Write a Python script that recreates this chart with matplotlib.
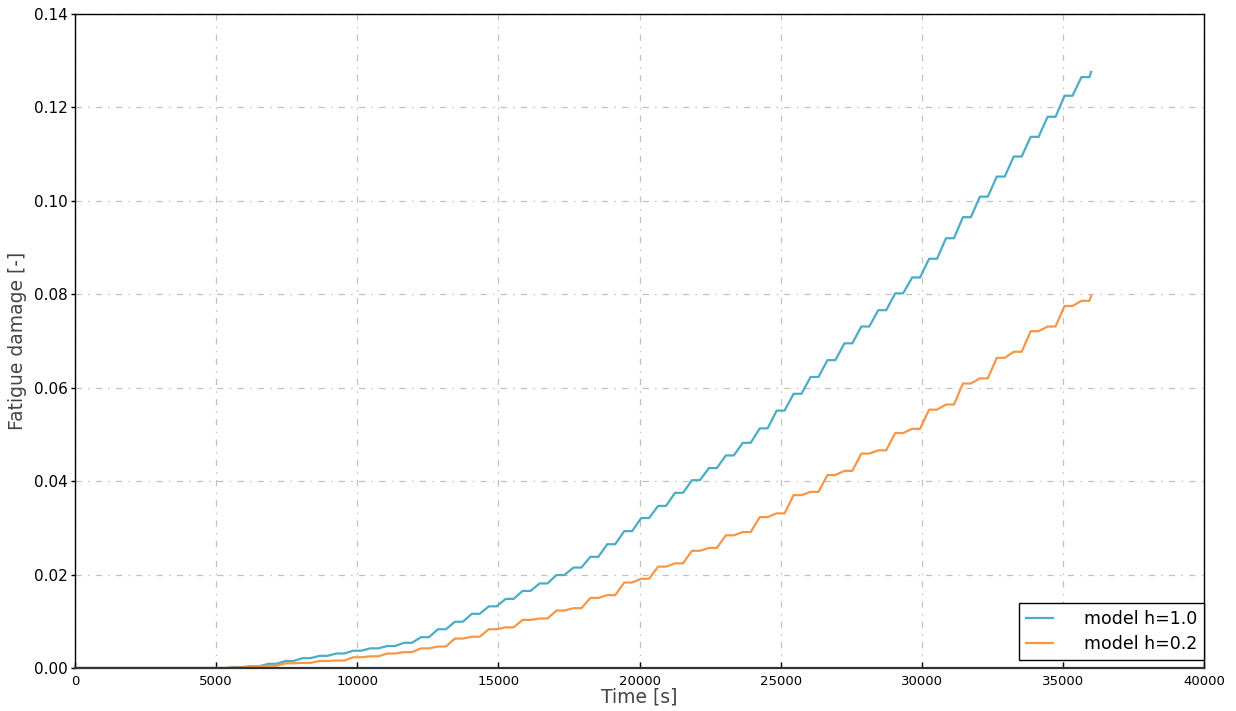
import numpy as np
import matplotlib
matplotlib.use("Agg")
import matplotlib.pyplot as plt

# ---- data: damage level at each 600 s load step (plateau centred at 600*k + 400 s)
step_period = 600.0
t_end = 36000.0

blue_levels = [
    0.0, 0.0, 0.0, 0.0, 0.0, 0.0, 0.0, 0.0, 0.0, 0.0002,          # k 0-9
    0.0004, 0.0009, 0.0015, 0.0021, 0.0026, 0.0031, 0.0037, 0.0042, 0.0047, 0.0054,  # 10-19
    0.0066, 0.0083, 0.0099, 0.0116, 0.0132, 0.0148, 0.0165, 0.0181, 0.0199, 0.0215,  # 20-29
    0.0238, 0.0265, 0.0293, 0.0321, 0.0347, 0.0375, 0.0402, 0.0428, 0.0455, 0.0482,  # 30-39
    0.0513, 0.0551, 0.0587, 0.0623, 0.0659, 0.0695, 0.0731, 0.0766, 0.0802, 0.0836,  # 40-49
    0.0876, 0.0920, 0.0965, 0.1009, 0.1052, 0.1095, 0.1137, 0.1180, 0.1225, 0.1265,  # 50-59
]
blue_end = 0.1276

orange_levels = [
    0.0, 0.0, 0.0, 0.0, 0.0, 0.0, 0.0, 0.0, 0.0, 0.0001,          # k 0-9
    0.0004, 0.0005, 0.0010, 0.0011, 0.0015, 0.0016, 0.0023, 0.0025, 0.0031, 0.0034,  # 10-19
    0.0042, 0.0046, 0.0063, 0.0067, 0.0083, 0.0087, 0.0103, 0.0106, 0.0123, 0.0128,  # 20-29
    0.0150, 0.0156, 0.0183, 0.0191, 0.0217, 0.0224, 0.0251, 0.0257, 0.0284, 0.0291,  # 30-39
    0.0323, 0.0331, 0.0370, 0.0377, 0.0413, 0.0422, 0.0459, 0.0466, 0.0503, 0.0512,  # 40-49
    0.0553, 0.0564, 0.0609, 0.0620, 0.0664, 0.0677, 0.0721, 0.0731, 0.0775, 0.0786,  # 50-59
]
orange_end = 0.0796

labels = ["model h=1.0", "model h=0.2"]
colors = ["#4bacc6", "#f79646"]

x_ticks = [0, 5000, 10000, 15000, 20000, 25000, 30000, 35000, 40000]
y_ticks = [0.00, 0.02, 0.04, 0.06, 0.08, 0.10, 0.12, 0.14]


def staircase(levels, end_value):
    """Plateau [600k+260, 600k+540] at each level, ramps in between."""
    t = [0.0]
    d = [levels[0]]
    for k, lv in enumerate(levels):
        t += [k * step_period + 260, k * step_period + 540]
        d += [lv, lv]
    t.append(t_end)
    d.append(end_value)
    return np.array(t), np.array(d)


fig = plt.figure(figsize=(12.36, 7.11), dpi=100)
ax = fig.add_axes([75 / 1236, 1 - 668 / 711, (1204 - 75) / 1236, (668 - 14) / 711])

for lv, end, lab, col in [(blue_levels, blue_end, labels[0], colors[0]),
                          (orange_levels, orange_end, labels[1], colors[1])]:
    t, d = staircase(lv, end)
    ax.plot(t, d, color=col, lw=1.6, label=lab, solid_joinstyle="round")

ax.set_xlim(0, 40000)
ax.set_ylim(0, 0.14)
ax.set_xticks(x_ticks)
ax.set_yticks(y_ticks)
ax.set_xticklabels([str(v) for v in x_ticks])
ax.set_yticklabels(["%.2f" % v for v in y_ticks])

ax.grid(True, color="#c0c0c0", linestyle=(0, (5, 5, 1.2, 5)), linewidth=0.9)
ax.set_axisbelow(True)

ax.tick_params(axis="x", direction="in", length=4, width=1, labelsize=9.5,
               top=False, pad=5)
ax.tick_params(axis="y", direction="out", length=3, width=1, labelsize=11,
               right=False, pad=2)
for s in ax.spines.values():
    s.set_linewidth(1.0)
    s.set_color("black")
ax.spines["bottom"].set_linewidth(1.6)
ax.spines["bottom"].set_color("#333333")

ax.set_xlabel("Time [s]", fontsize=13.5, color="#444444", labelpad=0)
ax.set_ylabel("Fatigue damage [-]", fontsize=13.5, color="#444444", labelpad=5)

leg = ax.legend(loc="lower right", bbox_to_anchor=(1.0, 8 / 654), borderaxespad=0,
                fontsize=12.5, frameon=True, fancybox=False, handlelength=1.6,
                handletextpad=1.75, labelspacing=0.4, borderpad=0.4)
leg.get_frame().set_edgecolor("black")
leg.get_frame().set_linewidth(1.0)
leg.get_frame().set_alpha(1.0)

fig.savefig("out.png", dpi=100)
